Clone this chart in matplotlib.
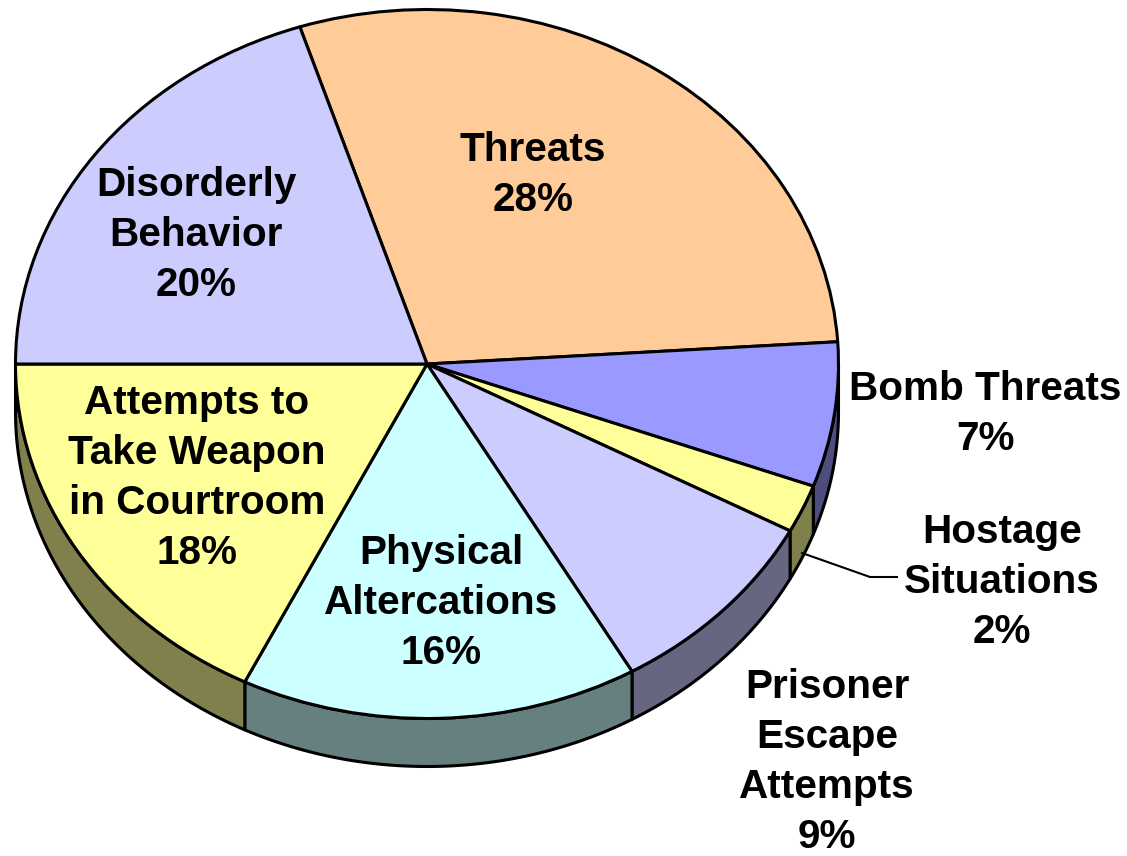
import numpy as np
import matplotlib
matplotlib.use("Agg")
import matplotlib.pyplot as plt
from matplotlib.colors import to_rgb
from matplotlib.lines import Line2D

plt.rcParams['font.family'] = ['Liberation Sans', 'DejaVu Sans']

# clockwise from the Threats slice
categories = ["Threats", "Bomb Threats", "Hostage\nSituations", "Prisoner\nEscape\nAttempts",
              "Physical\nAltercations", "Attempts to\nTake Weapon\nin Courtroom", "Disorderly\nBehavior"]
percent_labels = ["28%", "7%", "2%", "9%", "16%", "18%", "20%"]
# shares as drawn on the tilted pie (read from the slice boundaries)
drawn_shares = [29.0, 6.6, 2.2, 8.9, 15.6, 17.7, 20.0]
colors = ["#FFCC99", "#9999FF", "#FFFF99", "#CCCCFF", "#CCFFFF", "#FFFF99", "#CCCCFF"]

W, H = 1127, 856
CX, CY, RX, RY, DEPTH = 427, 364, 411.5, 354.5, 48
LW = 2.2
depth = DEPTH / RY

fig = plt.figure(figsize=(W / 100, H / 100), dpi=100)
ax = fig.add_axes([0, 0, 1, 1])
wedges, _ = ax.pie(drawn_shares, colors=colors, startangle=108, counterclock=False,
                   radius=1, wedgeprops=dict(edgecolor="black", linewidth=LW, joinstyle="round"))
for w in wedges:
    w.set_zorder(3)
ax.set_aspect("auto")
ax.set_xlim(-CX / RX, (W - CX) / RX)
ax.set_ylim(-(H - CY) / RY, CY / RY)

# side wall: the lower half of each slice pushed down by the depth
for w, c in zip(wedges, colors):
    t1, t2 = w.theta1 % 360, w.theta2 % 360
    if t2 <= t1:
        t2 += 360
    a, b = max(t1, 180), min(t2, 360)
    if b <= a:
        continue
    th = np.radians(np.linspace(a, b, 120))
    xs = np.r_[np.cos(th), np.cos(th[::-1])]
    ys = np.r_[np.sin(th), np.sin(th[::-1]) - depth]
    ax.fill(xs, ys, facecolor=tuple(0.5 * v for v in to_rgb(c)), edgecolor="black",
            linewidth=LW, joinstyle="round", zorder=2)

text_centers = [(533, 175), (985, 414), (1002, 582), (827, 762), (441, 603), (197, 478), (196, 235)]
for name, pct, (x, y) in zip(categories, percent_labels, text_centers):
    fig.text(x / W, 1 - y / H, f"{name}\n{pct}", ha="center", va="center", ma="center",
             fontsize=29.2, fontweight="bold", color="black", linespacing=1.41, zorder=5)

# leader line for the Hostage Situations label
lx = np.array([802, 870, 897]) / W
ly = 1 - np.array([553, 577, 577]) / H
fig.add_artist(Line2D(lx, ly, transform=fig.transFigure, color="black", linewidth=1.5))

fig.savefig("out.png", dpi=100, facecolor="white")
